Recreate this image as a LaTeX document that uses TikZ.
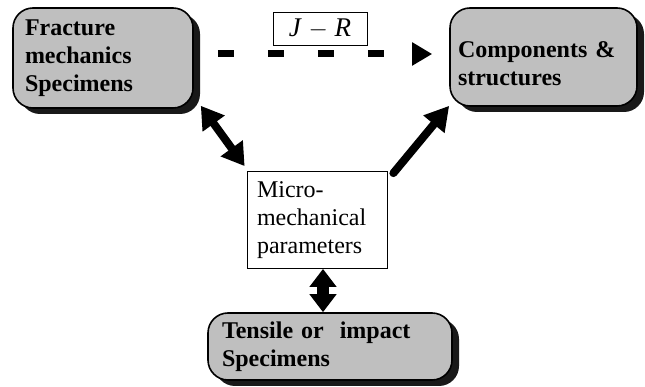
\documentclass[tikz,border=0pt]{standalone}
\usepackage{fontspec}
\setmainfont{Liberation Serif}[BoldFont={Liberation Serif Bold}]
\usetikzlibrary{arrows.meta, positioning, shadows}

\begin{document}
\begin{tikzpicture}[x=1pt, y=1pt,
        specbox/.style={draw, line width=1.6pt, rounded corners=20pt, fill=gray!50,
            drop shadow={shadow xshift=7pt, shadow yshift=-6pt, fill=black!90, opacity=1},
            align=left, font=\fontsize{24}{28}\selectfont\bfseries},
        fatarrow/.style={line width=8pt, line cap=round}]
    \useasboundingbox (0,0) rectangle (645,387);

    % Specimen and component boxes
    \node[specbox, text width=156pt, inner xsep=12pt, minimum height=100pt] (frac) at (103,329)
        {Fracture\\mechanics\\Specimens};
    \node[specbox, text width=171pt, inner xsep=8pt, minimum height=98pt] (comp) at (543.5,330)
        {\rule{0pt}{29pt}Components \&\\structures};
    \node[specbox, text width=216pt, inner xsep=14pt, minimum height=67pt] (tens) at (330,40.5)
        {Tensile or\ \ impact\\Specimens};

    % Parameters in the middle
    \node[draw, thick, fill=white, text width=120pt, inner xsep=10pt, minimum height=97pt, align=left,
        font=\fontsize{24}{28}\selectfont] (micro) at (317,167)
        {Micro-\\mechanical\\parameters};

    % Transfer curve label
    \node[draw, thick, minimum width=94pt, minimum height=33pt, inner sep=0pt,
        font=\fontsize{27}{30}\selectfont] (jr) at (320,358.5) {\textit{J} $-$ \textit{R}};

    % Connectors
    \draw[line width=7pt, dash pattern=on 16pt off 34pt, shorten <=24pt, shorten >=17pt,
        -{Triangle[length=20pt, width=22pt]}]
        ([yshift=4]frac.east) -- ([yshift=3]comp.west);
    \draw[fatarrow, {Triangle[length=22pt, width=26pt]}-{Triangle[length=22pt, width=26pt]}]
        ([shift={(7,3)}]frac.south east) -- ([shift={(-2,5)}]micro.north west);
    \draw[fatarrow, -{Triangle[length=24pt, width=26pt]}]
        ([shift={(6,-2)}]micro.north east) -- ([shift={(0,1)}]comp.south west);
    \draw[line width=12pt, {Triangle[length=18pt, width=26pt]}-{Triangle[length=18pt, width=26pt]}]
        ([xshift=6]micro.south) -- ([xshift=-7]tens.north);
\end{tikzpicture}
\end{document}
